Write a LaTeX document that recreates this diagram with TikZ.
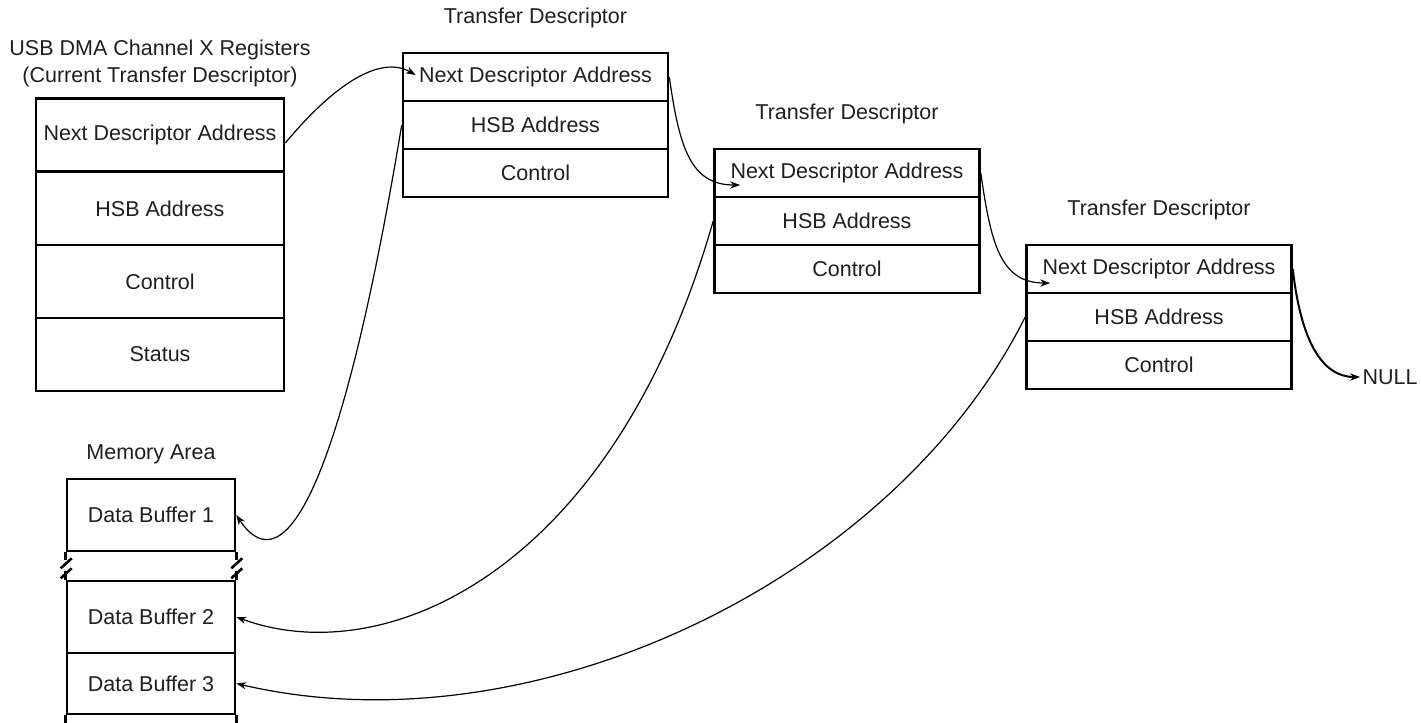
\documentclass[tikz,border=0pt]{standalone}
\usepackage{fontspec}
\setmainfont{Liberation Sans}
\usetikzlibrary{arrows.meta}

\tikzset{
  box/.style={line width=1.3pt},
  regcell/.style={draw, box, inner sep=0pt, minimum width=124pt, minimum height=36.5pt},
  tdcell/.style={draw, box, inner sep=0pt, minimum width=132.5pt, minimum height=24pt},
  bufcell/.style={draw, box, inner sep=0pt, minimum width=84pt, minimum height=36pt},
  link/.style={->, line width=0.6pt},
  nulllink/.style={->, line width=1pt}
}

\begin{document}
\begin{tikzpicture}[x=0.5pt, y=-0.5pt, >={Stealth[length=5pt,width=3.6pt]},
    every node/.style={font=\fontsize{10.75}{13.5}\selectfont, text=black!88}]
  \useasboundingbox (0,0) rectangle (1421,723);

  % current descriptor registers
  \node[align=center] (regtitle) at (160,63) {USB DMA Channel X Registers\\(Current Transfer Descriptor)};
  \node[regcell] (regn) at (160,135) {Next Descriptor Address};
  \node[regcell] (regh) at (160,208.5) {HSB Address};
  \node[regcell] (regc) at (160,281.5) {Control};
  \node[regcell] (regs) at (160,354.5) {Status};

  % descriptor chain
  \foreach \i/\x/\y in {1/535.5/77, 2/847/173, 3/1159/269} {
    \node (td\i t) at (\x,\y-59) {Transfer Descriptor};
    \node[tdcell] (td\i n) at (\x,\y) {Next Descriptor Address};
    \node[tdcell] (td\i h) at (\x,\y+48) {HSB Address};
    \node[tdcell] (td\i c) at (\x,\y+96) {Control};
  }
  \node[inner sep=1pt] (null) at (1390,377) {NULL};

  % memory area
  \node (memtitle) at (151,454) {Memory Area};
  \node[bufcell] (buf1) at (151,515) {Data Buffer 1};
  \node[bufcell] (buf2) at (151,617) {Data Buffer 2};
  \node[bufcell, minimum height=30.5pt] (buf3) at (151,683.5) {Data Buffer 3};
  \foreach \a/\b in {buf1.south west/buf2.north west, buf1.south east/buf2.north east} {
    \draw[box] (\a) -- ++(0,8);
    \draw[box] (\a) ++(-5,16) -- ++(11,-10);
    \draw[box] (\a) ++(-5,26) -- ++(11,-10);
    \draw[box] (\b) -- ++(0,-9);
  }
  \draw[box] (buf3.south west) -- ++(0,12);
  \draw[box] (buf3.south east) -- ++(0,12);

  % next descriptor pointers
  \draw[link] ([yshift=-4pt]regn.east) .. controls +(50,-60) and +(-35,-20) .. ([xshift=7pt,yshift=1pt]td1n.west);
  \draw[link] (td1n.east) .. controls +(10,70) and +(-50,0) .. ([xshift=13.5pt,yshift=-6pt]td2n.west);
  \draw[link] (td2n.east) .. controls +(10,70) and +(-50,0) .. ([xshift=12.5pt,yshift=-7pt]td3n.west);
  \draw[nulllink] (td3n.east) .. controls +(8,72) and +(-38,0) .. (null.west);

  % buffer pointers
  \draw[link] (td1h.west) .. controls +(-58,350) and +(50,75) .. (buf1.east);
  \draw[link] (td2h.west) .. controls +(-100,350) and +(150,55) .. (buf2.east);
  \draw[link] (td3h.west) .. controls +(-130,260) and +(300,70) .. (buf3.east);
\end{tikzpicture}
\end{document}
